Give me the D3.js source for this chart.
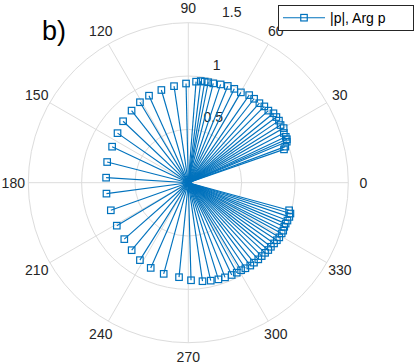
<!DOCTYPE html>
<html><head><meta charset="utf-8">
<script src="https://cdn.jsdelivr.net/npm/d3@7"></script>
<style>html,body{margin:0;padding:0;background:#fff;}svg{display:block;font-family:"Liberation Sans",Arial,sans-serif;}</style>
</head><body><svg id="c" width="415" height="364"></svg>
<script>
// Arg p in degrees
const argP = [19.2,20.4,22.6,23.8,25.2,27.5,29.8,32.0,34.4,36.7,39.2,42.0,45.1,48.2,51.9,55.2,59.8,63.9,67.8,71.8,75.9,78.8,80.8,83.0,85.6,91.3,98.4,106.2,114.3,121.0,128.2,136.7,145.0,154.7,165.7,176.5,
  187.6,199.6,211.0,221.4,230.0,238.0,246.2,254.9,264.4,271.6,278.2,282.9,287.3,291.2,295.2,298.3,301.1,303.7,306.8,309.4,312.4,315.0,317.6,319.9,322.2,324.7,327.0,329.0,331.5,333.2,335.3,337.2,339.1,341.3,343.2,344.7];
// |p|
const absP = [0.95,0.97,1.00,1.01,1.01,1.01,1.03,1.02,1.03,1.03,1.03,1.01,1.01,1.00,1.00,1.00,0.98,0.98,0.98,0.97,0.96,0.96,0.96,0.96,0.95,0.93,0.915,0.905,0.895,0.88,0.86,0.84,0.81,0.79,0.785,0.772,
  0.774,0.771,0.782,0.80,0.826,0.856,0.873,0.885,0.89,0.915,0.933,0.942,0.949,0.952,0.956,0.958,0.958,0.964,0.97,0.97,0.973,0.973,0.975,0.98,0.98,0.985,0.99,0.995,0.996,0.997,0.99,0.99,0.995,1.0,1.0,0.98];
const rTicks = [0.5, 1, 1.5];
const thetaTicks = [0,30,60,90,120,150,180,210,240,270,300,330];
const panelLabel = "b)";
const legendLabel = "|p|, Arg p";

const svg = d3.select("#c");
const cx = 188.3, cy = 182.7;
const r = d3.scaleLinear().domain([0, 1.5]).range([0, 160]);
const rad = d => d * Math.PI / 180;
const px = (a, v) => cx + r(v) * Math.cos(rad(a));
const py = (a, v) => cy - r(v) * Math.sin(rad(a));
const grid = "#dcdcdc", blue = "#0072BD", txt = "#262626";

const g = svg.append("g");
g.selectAll("line.spoke").data(thetaTicks).join("line")
  .attr("x1", cx).attr("y1", cy)
  .attr("x2", d => px(d, 1.5)).attr("y2", d => py(d, 1.5))
  .attr("stroke", grid).attr("stroke-width", 1);
g.selectAll("circle.ring").data(rTicks).join("circle")
  .attr("cx", cx).attr("cy", cy).attr("r", d => r(d))
  .attr("fill", "none").attr("stroke", grid).attr("stroke-width", 1);
g.selectAll("text.th").data(thetaTicks).join("text")
  .attr("x", d => cx + 175 * Math.cos(rad(d)))
  .attr("y", d => cy - (d === 270 ? 174 : 175) * Math.sin(rad(d)))
  .attr("text-anchor", "middle").attr("dominant-baseline", "central")
  .attr("font-size", 14).attr("fill", txt).text(d => d);
g.selectAll("text.rl").data(rTicks).join("text")
  .attr("x", d => px(80, d) + 6).attr("y", d => py(80, d) - 8)
  .attr("font-size", 14).attr("fill", txt).text(d => d);

const pts = argP.map((a, i) => ({a, v: absP[i]}));
const m = svg.append("g");
m.selectAll("line.stem").data(pts).join("line")
  .attr("x1", cx).attr("y1", cy)
  .attr("x2", d => px(d.a, d.v)).attr("y2", d => py(d.a, d.v))
  .attr("stroke", blue).attr("stroke-width", 1.15);
const s = 6.5;
m.selectAll("rect.mk").data(pts.concat([{a:0, v:0}])).join("rect")
  .attr("x", d => px(d.a, d.v) - s/2).attr("y", d => py(d.a, d.v) - s/2)
  .attr("width", s).attr("height", s)
  .attr("fill", "none").attr("stroke", blue).attr("stroke-width", 1.2);

svg.append("text").attr("x", 42).attr("y", 40).attr("font-size", 27).attr("fill", "#000").text(panelLabel);

const lg = svg.append("g");
lg.append("rect").attr("x", 278.5).attr("y", 5.5).attr("width", 135).attr("height", 25)
  .attr("fill", "#fff").attr("stroke", txt).attr("stroke-width", 1);
lg.append("line").attr("x1", 283).attr("x2", 325).attr("y1", 17.7).attr("y2", 17.7)
  .attr("stroke", blue).attr("stroke-width", 1.15);
lg.append("rect").attr("x", 304 - s/2).attr("y", 17.7 - s/2).attr("width", s).attr("height", s)
  .attr("fill", "none").attr("stroke", blue).attr("stroke-width", 1.2);
lg.append("text").attr("x", 330).attr("y", 17.7).attr("dominant-baseline", "central")
  .attr("font-size", 14).attr("fill", "#000").text(legendLabel);
</script></body></html>
